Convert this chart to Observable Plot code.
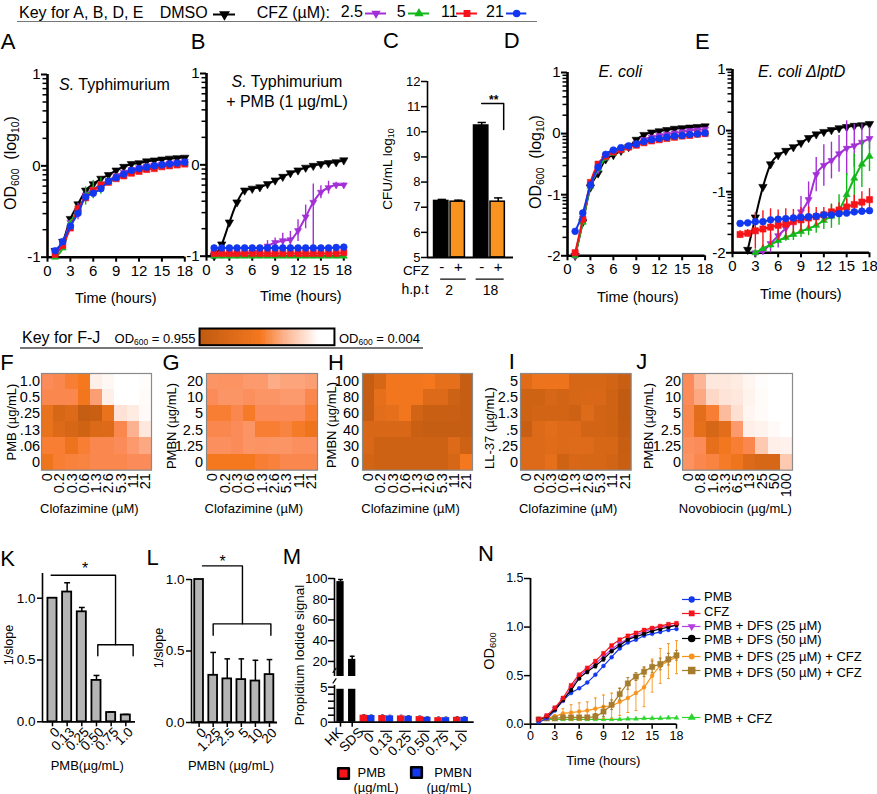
<!DOCTYPE html>
<html><head><meta charset="utf-8">
<script src="https://cdn.jsdelivr.net/npm/d3@7"></script>
<script src="https://cdn.jsdelivr.net/npm/@observablehq/plot@0.6"></script>
<style>
html,body{margin:0;padding:0;background:#fff}
#page{position:relative;width:877px;height:794px;overflow:hidden;font-family:"Liberation Sans",Arial,sans-serif;color:#000}
.t{position:absolute;white-space:nowrap;line-height:1}
.t sub{font-size:.65em;line-height:0;vertical-align:-.25em}
.u{position:absolute;height:1.5px;background:#777}
</style></head><body><div id="page"></div>
<script>
// ---------- data ----------
const hours=[1,2,3,4,5,6,7,8,9,10,11,12,13,14,15,16,17,18];
const C_BLACK="#000",C_PURPLE="#a32fd6",C_GREEN="#12b81a",C_RED="#f5141a",C_BLUE="#1237f0";

const A_dmso=[-.93,-.83,-.58,-.42,-.27,-.2,-.14,-.1,-.05,-.01,.02,.03,.05,.06,.07,.08,.085,.09];
const A_25=[-.94,-.84,-.62,-.5,-.32,-.26,-.2,-.16,-.11,-.07,-.04,-.02,0,.01,.02,.03,.04,.05];
const A_5=[-1,-.9,-.63,-.48,-.33,-.26,-.22,-.17,-.13,-.1,-.07,-.04,-.02,-.01,0,.01,.02,.03];
const A_11=[-.97,-.87,-.68,-.47,-.35,-.27,-.21,-.18,-.14,-.11,-.08,-.06,-.04,-.03,-.01,0,.01,.02];
const A_21=[-.93,-.83,-.66,-.52,-.34,-.3,-.25,-.17,-.13,-.09,-.05,-.03,-.015,0,.01,.02,.03,.04];
const A_err5=[0,0,0,0,.1,.1,.09,0,0,0,0,0,0,0,0,0,0,0];
const A_err25=[0,0,0,.09,.04,0,0,0,0,0,0,0,0,0,0,0,0,0];

const B_dmso=[-1,-.87,-.63,-.41,-.28,-.26,-.245,-.21,-.17,-.13,-.09,-.06,-.03,-.01,.01,.02,.03,.05];
const B_25=[-.98,-.98,-.98,-.98,-.97,-.96,-.93,-.89,-.85,-.83,-.82,-.72,-.57,-.41,-.3,-.25,-.22,-.22];
const B_5=[-1,-1,-1,-1,-1,-1,-1,-1,-1,-1,-1,-1,-1,-1,-1,-1,-1,-1];
const B_11=[-.97,-.97,-.97,-.97,-.97,-.97,-.97,-.97,-.97,-.97,-.97,-.97,-.97,-.97,-.97,-.97,-.97,-.96];
const B_21=[-.91,-.91,-.91,-.91,-.91,-.91,-.91,-.91,-.91,-.91,-.91,-.91,-.91,-.91,-.91,-.91,-.905,-.9];
const B_up25=[0,0,0,0,0,0,0,.06,.05,.08,.09,.12,.13,.2,.07,.07,.03,.02];
const B_dn25=[0,0,0,0,0,0,0,.06,.05,.08,.09,.12,.13,.59,.07,.07,.03,.02];

const D_dmso=[-2,-1.45,-.88,-.65,-.42,-.35,-.28,-.22,-.1,-.02,.02,.04,.06,.08,.09,.1,.11,.12];
const D_25=[-2,-1.42,-.86,-.6,-.38,-.3,-.26,-.21,-.16,-.1,-.06,-.03,-.01,.01,.03,.05,.06,.07];
const D_5=[-2,-1.45,-.86,-.58,-.4,-.32,-.27,-.22,-.18,-.14,-.11,-.09,-.07,-.05,-.03,-.02,0,.01];
const D_11=[-1.95,-1.4,-.8,-.5,-.37,-.3,-.26,-.22,-.19,-.15,-.12,-.1,-.08,-.06,-.04,-.03,-.01,0];
const D_21=[-1.6,-1.3,-.84,-.55,-.34,-.27,-.23,-.2,-.17,-.13,-.1,-.08,-.06,-.04,-.03,-.015,-.005,.01];

const E_dmso=[null,-1.95,-1.42,-.92,-.55,-.4,-.33,-.27,-.2,-.12,-.06,-.02,.01,.04,.06,.08,.09,.11];
const E_25=[null,null,-2,-1.97,-1.85,-1.72,-1.6,-1.48,-1.33,-1.13,-.72,-.57,-.49,-.38,-.29,-.25,-.19,-.13];
const E_5=[null,null,-2,-1.93,-1.87,-1.8,-1.75,-1.7,-1.65,-1.6,-1.55,-1.47,-1.4,-1.3,-1.05,-.78,-.55,-.42];
const E_11=[-1.7,-1.68,-1.64,-1.61,-1.58,-1.55,-1.53,-1.49,-1.46,-1.43,-1.41,-1.38,-1.33,-1.3,-1.25,-1.21,-1.17,-1.13];
const E_21=[-1.52,-1.51,-1.49,-1.49,-1.46,-1.45,-1.44,-1.43,-1.42,-1.41,-1.4,-1.38,-1.38,-1.36,-1.35,-1.33,-1.32,-1.31];
const E_err25=[0,0,0,.02,.15,.2,.15,.12,.25,.29,.28,.34,.3,.3,.45,.35,.3,.18];
const E_err5=[0,0,0,.05,.06,.05,.06,.1,.1,.12,.13,.15,.2,.25,.35,.4,.38,.25];
const E_err11=[.06,.06,.3,.3,.3,.25,.25,.2,.2,.18,.15,.12,.12,.12,.13,.15,.17,.18];

const C_pos=[1,2,3.42,4.42];
const C_sign=["-","+","-","+"];
const C_vals=[7.25,7.22,10.25,7.22];
const C_errs=[.06,.06,.12,.15];
const C_colors=["#000","#f7931e","#000","#f7931e"];

const heatCFZ=["0","0.2","0.3","0.6","1.3","2.6","5.3","11","21"];
const heatNov=["0","0.8","1.6","3.3","6.5","13","25","50","100"];
const F_rows=["1.0","0.5",".25",".13",".06","0"];
const F_vals=[[.6,.62,.68,.72,.08,.04,0,0,.01],[.62,.62,.62,.74,.5,.08,0,0,.02],[.78,.88,.85,.97,.95,.78,.15,.1,.03],[.78,.85,.88,.92,.86,.85,.62,.4,.12],[.68,.68,.76,.68,.62,.62,.6,.52,.45],[.75,.68,.66,.65,.62,.62,.62,.6,.6]];
const G_rows=["20","10","5","2.5","1.25","0"];
const G_vals=[[.55,.56,.56,.52,.52,.43,.47,.47,.5],[.6,.55,.55,.58,.55,.55,.52,.52,.62],[.68,.68,.62,.7,.6,.6,.6,.6,.68],[.62,.62,.6,.55,.68,.68,.65,.7,.75],[.58,.58,.6,.55,.56,.55,.55,.58,.58],[.72,.72,.72,.72,.68,.66,.62,.62,.62]];
const H_rows=["100","80","60","40","30","0"];
const H_vals=[[.97,.88,.74,.74,.74,.72,.8,.8,.97],[.97,.8,.74,.74,.74,.85,.85,.93,.97],[.97,.82,.8,.74,.9,.95,.95,.95,.97],[.87,.87,.87,.87,.95,.97,.97,.97,.97],[.87,.93,.93,.93,.93,.93,.93,.85,.93],[.9,.93,.93,.93,.93,.93,.93,.88,.72]];
const I_rows=["5","2.5","1.3",".5",".25","0"];
const I_vals=[[.83,.76,.76,.76,.88,.88,.88,.9,.95],[.92,.92,.88,.9,.88,.87,.87,.92,.99],[.92,.9,.9,.9,.93,.84,.9,.92,.99],[.95,.85,.82,.85,.85,.9,.9,.92,.98],[.85,.85,.83,.85,.84,.84,.88,.88,.96],[.85,.85,.8,.92,.87,.88,.88,.9,.95]];
const J_rows=["20","10","5","2.5","1.25","0"];
const J_vals=[[.6,.38,.12,.12,.1,.05,.01,0,0],[.6,.45,.2,.14,.12,.06,.02,0,0],[.62,.82,.68,.35,.16,.05,.02,0,0],[.62,.8,.88,.82,.52,.08,.06,.03,0],[.58,.6,.8,.73,.68,.62,.28,.08,.07],[.56,.62,.65,.7,.75,.85,.88,.88,.28]];
const heatDomain=[0,.6,.72,1];
const heatRange=["#ffffff","#fb8b58","#f5781f","#bf5a10"];

const K_labels=["0","0.13","0.25","0.50","0.75","1.0"];
const K_vals=[1,1.05,.89,.335,.075,.055];
const K_errs=[0,.075,.035,.04,.005,.005];
const L_labels=["0","1.25","2.5","5","10","20"];
const L_vals=[1,.33,.305,.3,.29,.335];
const L_errs=[0,.16,.14,.145,.145,.105];

const M_ctrlPos=[-1.446,-.82];
const M_ctrlLabels=["HK","SDS"];
const M_ctrlVals=[97,22];
const M_ctrlErrs=[2,3];
const M_groups=[0,1,2,3,4,5];
const M_groupLabels=["0","0.13","0.25","0.50","0.75","1.0"];
const M_pmb=[1,.95,.9,.8,.65,.7];
const M_pmbn=[.95,.9,.85,.7,.65,.7];

const N_pmb=[.02,.06,.14,.24,.32,.37,.43,.51,.6,.69,.78,.84,.87,.91,.93,.95,.97,.98];
const N_cfz=[.05,.09,.17,.27,.4,.51,.58,.65,.73,.81,.87,.91,.94,.97,.99,1.01,1.03,1.04];
const N_d25=[.05,.08,.16,.25,.37,.49,.56,.62,.7,.77,.83,.88,.92,.95,.98,1,1.01,1.02];
const N_d50=[.05,.08,.15,.25,.35,.47,.54,.6,.67,.75,.81,.87,.9,.93,.96,.98,1,1.02];
const N_d25c=[.05,.06,.08,.11,.12,.13,.14,.16,.18,.19,.23,.27,.32,.38,.5,.6,.65,.69];
const N_d50c=[.05,.06,.06,.07,.07,.07,.07,.08,.13,.2,.31,.42,.49,.54,.59,.62,.67,.71];
const N_pc=[.04,.05,.05,.05,.05,.05,.05,.05,.05,.05,.05,.055,.055,.06,.06,.06,.065,.065];
const N_err25c=[0,0,.02,.05,.08,.09,.09,.11,.12,.13,.14,.15,.18,.2,.17,.18,.18,.17];
const N_err50c=[0,.01,.01,.02,.02,.02,.02,.03,.05,.05,.06,.06,.04,.05,.06,.06,.06,.05];
const N_errD=[0,0,.01,.01,.01,.01,.02,.02,.02,.01,.01,.01,.01,.01,.01,.01,.01,.01];

const logMinorOffsets=[.301,.477,.602,.699,.778,.845,.903,.954];

// ---------- helpers ----------
const page=document.getElementById("page");
const triDown={draw(c,s){const y=Math.sqrt(s/(3*Math.sqrt(3)));c.moveTo(0,2*y);c.lineTo(-Math.sqrt(3)*y,-y);c.lineTo(Math.sqrt(3)*y,-y);c.closePath();}};
const FONT='"Liberation Sans",Arial,sans-serif';

function lab(html,x,y,o={}){
  const d=document.createElement("div");d.className="t";d.innerHTML=html;
  const rot=o.rot?` rotate(${o.rot}deg)`:"";
  const ax=o.start?"0":"-50%";
  d.style.cssText=`left:${x}px;top:${y}px;font-size:${o.size||13}px;transform:translate(${ax},-50%)${rot};`+(o.italic?"font-style:italic;":"");
  page.appendChild(d);
}
function under(x0,x1,y){const d=document.createElement("div");d.className="u";d.style.cssText=`left:${x0}px;top:${y}px;width:${x1-x0}px`;page.appendChild(d);}

function place(box,m,opts){
  const [x0,y0,x1,y1]=box,[t,r,b,l]=m;
  const plot=Plot.plot({width:x1-x0+l+r,height:y1-y0+t+b,marginTop:t,marginRight:r,marginBottom:b,marginLeft:l,
    style:{position:"absolute",left:(x0-l)+"px",top:(y0-t)+"px",background:"transparent",overflow:"visible",maxWidth:"none",fontFamily:FONT,fontSize:(opts.fs||14)+"px",color:"#000"},
    ...opts});
  page.appendChild(plot);return plot;
}
function swatch(x0,x1,y,color,symbol,r,sw=2){
  place([x0,y-8,x1,y+8],[0,0,0,0],{x:{axis:null,domain:[0,1]},y:{axis:null,domain:[0,1]},marks:[
    Plot.ruleY([.5],{stroke:color,strokeWidth:sw}),
    Plot.dot([.5],{x:d=>d,y:()=>.5,r,symbol,fill:color,stroke:color})
  ]});
}
function boxSwatch(cx,cy,color){
  place([cx-9,cy-9,cx+9,cy+9],[0,0,0,0],{x:{axis:null,domain:[0,1]},y:{axis:null,domain:[0,1]},marks:[
    Plot.dot([.5],{x:d=>d,y:()=>.5,r:6,symbol:"square",fill:color,stroke:"#000",strokeWidth:2.6,strokeLinejoin:"round"})
  ]});
}
function tab(values,up,dn){return hours.map((h,i)=>({h,v:values[i],up:up?up[i]:0,dn:dn?dn[i]:(up?up[i]:0)}));}
function seriesMarks(s,sw){
  const d=tab(s.v,s.up,s.dn);
  return [
    Plot.ruleX(d.filter(e=>e.v!=null&&(e.up||e.dn)),{x:"h",y1:e=>e.v-e.dn,y2:e=>e.v+e.up,stroke:s.c,strokeWidth:1.4}),
    Plot.line(d,{x:"h",y:"v",stroke:s.c,strokeWidth:sw,curve:"monotone-x"}),
    Plot.dot(d,{x:"h",y:"v",r:s.r,symbol:s.s,fill:s.c,stroke:s.c,strokeWidth:.6})
  ];
}
function growth(box,yDomain,majors,series){
  const minor=majors.flatMap(M=>logMinorOffsets.map(o=>M+o)).filter(v=>v<yDomain[1]);
  place(box,[8,14,32,32],{fs:15,x:{domain:[0,18]},y:{domain:yDomain},marks:[
    Plot.axisY({ticks:minor,tickSize:4.5,tickFormat:()=>"",strokeWidth:1.5,label:null}),
    Plot.axisY({ticks:[...majors,yDomain[1]],tickSize:6,tickFormat:String,strokeWidth:2,tickPadding:1,label:null}),
    Plot.axisX({ticks:[0,3,6,9,12,15,18],tickSize:5,tickPadding:3,strokeWidth:2,label:null}),
    Plot.ruleX([0],{strokeWidth:2.6}),
    Plot.ruleY([yDomain[0]],{strokeWidth:2.6}),
    ...series.flatMap(s=>seriesMarks(s,2))
  ]});
}
function heat(box,xs,rows,vals,pad){
  const data=vals.flatMap((row,j)=>row.map((v,i)=>({x:xs[i],y:rows[j],v})));
  place(box,[2,4,34,32],{fs:14.5,
    x:{type:"band",domain:xs,padding:0,round:false},y:{type:"band",domain:rows,padding:0,round:false},
    color:{type:"linear",domain:heatDomain,range:heatRange},
    marks:[
      Plot.cell(data,{x:"x",y:"y",fill:"v",inset:0,shapeRendering:"crispEdges"}),
      Plot.frame({stroke:"#8a8a8a",strokeWidth:1.2}),
      Plot.axisY({tickSize:0,tickPadding:pad,label:null}),
      Plot.axisX({tickSize:0,tickPadding:3,tickRotate:-90,label:null})
    ]});
}
function cap(data,half,stroke="#000",sw=1.5){
  return [Plot.ruleX(data,{x:"x",y1:"v",y2:"hi",stroke,strokeWidth:sw}),
          Plot.link(data,{x1:d=>d.x-half,x2:d=>d.x+half,y1:"hi",y2:"hi",stroke,strokeWidth:sw})];
}
function slopeBars(box,xDom,yDom,labels,vals,errs,yTicks,brackets,m){
  const d=vals.map((v,i)=>({x:i,v,hi:v+errs[i]}));
  const idx=d3.range(labels.length);
  place(box,m,{fs:13.5,x:{domain:xDom},y:{domain:yDom},marks:[
    ...cap(d.filter(e=>e.hi>e.v),.2),
    Plot.rectY(d,{x1:e=>e.x-.31,x2:e=>e.x+.31,y1:0,y2:"v",fill:"#b5b5b5",stroke:"#000",strokeWidth:1.8}),
    Plot.axisY({ticks:yTicks,tickFormat:v=>v.toFixed(1),tickSize:5,tickPadding:2,strokeWidth:1.5,label:null}),
    Plot.axisX({ticks:idx,tickFormat:()=>"",tickSize:5,strokeWidth:1.5,label:null}),
    Plot.axisX({ticks:idx,tickFormat:i=>labels[i],tickSize:0,tickPadding:8,dx:5,tickRotate:-45,label:null}),
    Plot.ruleX([xDom[0]],{y1:0,y2:yDom[1],strokeWidth:1.6}),
    Plot.ruleY([0],{strokeWidth:1.8}),
    ...brackets.map(b=>Plot.line(b,{x:"x",y:"y",stroke:"#000",strokeWidth:1.4}))
  ]});
}

// ---------- key A,B,D,E ----------
lab("Key for A, B, D, E",19,13,{size:16,start:1});
lab("DMSO",159.7,13,{size:16,start:1});
swatch(213,235,14,C_BLACK,triDown,3.1);
lab("CFZ (µM):",256.7,13,{size:16,start:1});
lab("2.5",340.7,12,{size:16,start:1});
swatch(365,386,13,C_PURPLE,triDown,2.5);
lab("5",396.7,12,{size:16,start:1});
swatch(408,429,13,C_GREEN,"triangle",2.5);
lab("11",441,12,{size:16,start:1});
swatch(456,477,12.5,C_RED,"square",3);
lab("21",486,12,{size:16,start:1});
swatch(505.7,526,13,C_BLUE,"circle",3);
under(17,537,20.5);

// ---------- growth ----------
const sers=(d,p,g,r,b,x={})=>[
  {v:d,c:C_BLACK,s:triDown,r:3.1},
  {v:p,c:C_PURPLE,s:triDown,r:2.6,up:x.pu,dn:x.pd},
  {v:g,c:C_GREEN,s:"triangle",r:2.6,up:x.gu},
  {v:r,c:C_RED,s:"square",r:3.5,up:x.ru},
  {v:b,c:C_BLUE,s:"circle",r:3.4}];
growth([46.7,74,184,256.7],[-1,1],[-1,0],sers(A_dmso,A_25,A_5,A_11,A_21,{gu:A_err5,pu:A_err25}));
growth([205.7,73,343,255.7],[-1,1],[-1,0],sers(B_dmso,B_25,B_5,B_11,B_21,{pu:B_up25,pd:B_dn25}));
growth([566.7,71.7,704.3,255],[-2,1],[-2,-1,0],sers(D_dmso,D_25,D_5,D_11,D_21));
growth([732.3,69,869.3,252.3],[-2,1],[-2,-1,0],sers(E_dmso,E_25,E_5,E_11,E_21,{pu:E_err25,gu:E_err5,ru:E_err11}));

lab("OD<sub>600</sub>&nbsp;&nbsp;(log<sub>10</sub>)",11,163,{size:16,rot:-90});
lab("OD<sub>600</sub>&nbsp;&nbsp;(log<sub>10</sub>)",535.7,162,{size:16,rot:-90});
lab("<i>S.</i> Typhimurium",114.5,85,{size:16});
lab("<i>S.</i> Typhimurium",287,82.3,{size:16});
lab("+ PMB (1 µg/mL)",287,101.7,{size:16});
lab("<i>E. coli</i>",620.3,72.3,{size:16});
lab("<i>E. coli ΔlptD</i>",801.7,72.3,{size:16});
lab("Time (hours)",115.8,298.3,{size:14.5});
lab("Time (hours)",300.8,296,{size:14.5});
lab("Time (hours)",637.8,296.7,{size:14.5});
lab("Time (hours)",800.8,293.7,{size:14.5});

// ---------- C ----------
const C_data=C_pos.map((x,i)=>({x,v:C_vals[i],hi:C_vals[i]+C_errs[i],c:C_colors[i]}));
place([426.7,81,512.7,257],[6,4,42,26],{fs:13,x:{domain:[.133,5.345]},y:{domain:[5,12]},marks:[
  ...cap(C_data,.25),
  Plot.rectY(C_data,{x1:d=>d.x-.47,x2:d=>d.x+.4,y1:5,y2:"v",fill:"c",stroke:"#000",strokeWidth:1.5}),
  Plot.axisY({ticks:[5,6,7,8,9,10,11,12],tickSize:6,tickPadding:1,strokeWidth:1.5,tickFormat:String,label:null}),
  Plot.axisX({ticks:C_pos,tickFormat:(v,i)=>C_sign[i],tickSize:0,tickPadding:4,fontSize:15,label:null}),
  Plot.ruleX([.133],{strokeWidth:1.6}),
  Plot.ruleY([5],{strokeWidth:1.8}),
  Plot.line([{x:3.42,y:11.125},{x:4.75,y:11.125},{x:4.75,y:10.09}],{x:"x",y:"y",stroke:"#000",strokeWidth:1.5}),
  Plot.text(["**"],{x:()=>4.15,y:()=>11.2,fontSize:12,dy:-1,fontWeight:"bold"}),
  Plot.link([{a:.9,b:2.45},{a:3.05,b:4.75}],{x1:"a",x2:"b",y1:()=>4.14,y2:()=>4.14,stroke:"#000",strokeWidth:1.2}),
  Plot.text([{x:1.45,l:"2"},{x:3.95,l:"18"}],{x:"x",y:()=>3.68,text:"l",fontSize:14})
]});
lab("CFU/mL log<sub>10</sub>",388,169,{size:13.5,rot:-90});
lab("CFZ",416,271,{size:13.5});
lab("h.p.t",415,289.3,{size:14});
lab("C",391,41,{size:22});

// ---------- key F-J ----------
lab("Key for F-J",22,338,{size:16,start:1});
lab("OD<sub>600</sub> = 0.955",155,337.5,{size:13});
const keySteps=d3.range(0,1.0001,.0125);
place([199,328,334,344.7],[0,0,0,0],{x:{axis:null,domain:[0,1]},y:{axis:null,domain:[0,1]},color:{type:"linear",domain:[0,.45,.62,.88,1],range:["#bf5a10","#f5781f","#fcb08a","#ffffff","#ffffff"]},marks:[
  Plot.rect(keySteps,{x1:d=>d,x2:d=>d+.0135,y1:0,y2:1,fill:d=>d,shapeRendering:"crispEdges"}),
  Plot.frame({stroke:"#000",strokeWidth:2})
]});
lab("OD<sub>600</sub> = 0.004",339,337.5,{size:13,start:1});
under(20,422.7,347);

// ---------- heatmaps ----------
heat([41,373.3,151,470],heatCFZ,F_rows,F_vals,1.5);
heat([205.7,373.3,316.7,470],heatCFZ,G_rows,G_vals,3.5);
heat([362.3,373.3,472.3,470],heatCFZ,H_rows,H_vals,3.5);
heat([520,373.3,630.7,470],heatCFZ,I_rows,I_vals,2.5);
heat([681.7,373.3,791.7,470],heatNov,J_rows,J_vals,1.5);
lab("PMB (µg/mL)",11,421.7,{size:13,rot:-90});
lab("PMBN (µg/mL)",170.7,426,{size:13,rot:-90});
lab("PMBN (µg/mL)",330.7,425,{size:13,rot:-90});
lab("LL-37 (µg/mL)",489,428,{size:13,rot:-90});
lab("PMBN (µg/mL)",648,426,{size:13,rot:-90});
lab("Clofazimine (µM)",89.3,507.7,{size:13});
lab("Clofazimine (µM)",253.8,507.7,{size:13});
lab("Clofazimine (µM)",410.5,507.7,{size:13});
lab("Clofazimine (µM)",568.2,507.7,{size:13});
lab("Novobiocin (µg/mL)",735.3,507.7,{size:13});

// ---------- K, L ----------
const K_bracketTop=[{x:-.09,y:1.186},{x:4.3,y:1.186},{x:4.3,y:.623}];
const K_bracketLow=[{x:3.09,y:.534},{x:3.09,y:.623},{x:5.5,y:.623},{x:5.5,y:.534}];
slopeBars([42,573,135,721.3],[-.68,5.66],[0,1.2],K_labels,K_vals,K_errs,[0,.5,1],[K_bracketTop,K_bracketLow],[14,8,46,32]);
lab("*",85,569,{size:16});
lab("1/slope",9,645,{size:12.5,rot:-90});
lab("PMB(µg/mL)",87.3,764.7,{size:13});

const L_bracketTop=[{x:.24,y:1.095},{x:3.08,y:1.095},{x:3.08,y:.69}];
const L_bracketLow=[{x:1,y:.61},{x:1,y:.69},{x:5.1,y:.69},{x:5.1,y:.61}];
slopeBars([190.7,578.7,276.7,721.7],[-.54,5.57],[0,1],L_labels,L_vals,L_errs,[0,.5,1],[L_bracketTop,L_bracketLow],[20,8,46,32]);
lab("*",222.7,562,{size:16});
lab("1/slope",159,648,{size:12.5,rot:-90});
lab("PMBN (µg/mL)",231,765,{size:13});

// ---------- M (broken axis) ----------
const M_ctrl=M_ctrlPos.map((x,i)=>({x,v:M_ctrlVals[i],hi:M_ctrlVals[i]+M_ctrlErrs[i]}));
const M_xDom=[-1.767,5.71];
place([334.3,577.7,474,675.7],[4,4,0,28],{fs:13.5,x:{domain:M_xDom,axis:null},y:{domain:[5.5,100]},marks:[
  ...cap(M_ctrl,.13),
  Plot.rectY(M_ctrl,{x1:d=>d.x-.195,x2:d=>d.x+.195,y1:0,y2:"v",fill:"#000",clip:true}),
  Plot.axisY({ticks:[20,40,60,80,100],tickSize:6,tickPadding:1,strokeWidth:1.5,tickFormat:String,label:null}),
  Plot.ruleX([M_xDom[0]],{strokeWidth:1.6})
]});
const M_red=M_groups.map((g,i)=>({g,v:M_pmb[i]}));
const M_blue=M_groups.map((g,i)=>({g,v:M_pmbn[i]}));
const M_errs=M_groups.flatMap((g,i)=>[{x:g-.2,v:M_pmb[i],hi:M_pmb[i]+.1},{x:g+.2,v:M_pmbn[i],hi:M_pmbn[i]+.1}]);
place([334.3,685,474,721.7],[5,4,48,28],{fs:13.5,x:{domain:M_xDom},y:{domain:[0,5.24]},marks:[
  ...cap(M_errs,.08,"#555",1),
  Plot.rectY(M_ctrl,{x1:d=>d.x-.195,x2:d=>d.x+.195,y1:0,y2:d=>Math.min(d.v,4.7),fill:"#000"}),
  Plot.rectY(M_red,{x1:d=>d.g-.4,x2:d=>d.g,y1:0,y2:"v",fill:"#f5141a"}),
  Plot.rectY(M_blue,{x1:d=>d.g,x2:d=>d.g+.4,y1:0,y2:"v",fill:"#1237f0"}),
  Plot.axisY({ticks:[1,2,3,4],tickSize:6,tickFormat:()=>"",strokeWidth:1.5,label:null}),
  Plot.axisY({ticks:[0,5],tickSize:6,tickPadding:1,strokeWidth:1.5,tickFormat:String,label:null}),
  Plot.axisX({ticks:M_ctrlPos,tickFormat:()=>"",tickSize:5,strokeWidth:1.5,label:null}),
  Plot.axisX({ticks:[M_ctrlPos[0]],tickFormat:()=>M_ctrlLabels[0],tickSize:0,tickPadding:8,dx:0,tickRotate:-45,label:null}),
  Plot.axisX({ticks:[M_ctrlPos[1]],tickFormat:()=>M_ctrlLabels[1],tickSize:0,tickPadding:8,dx:9,tickRotate:-45,label:null}),
  Plot.axisX({ticks:M_groups,tickFormat:(v,i)=>M_groupLabels[i],tickSize:0,tickPadding:13,dx:4,tickRotate:-45,label:null}),
  Plot.ruleX([M_xDom[0]],{strokeWidth:1.6}),
  Plot.ruleY([0],{strokeWidth:1.8}),
  Plot.link(M_groups,{x1:d=>d-.32,x2:d=>d+.32,y1:()=>-1.3,y2:()=>-1.3,stroke:"#000",strokeWidth:1.2}),
  Plot.link([5.9,7.4],{x1:()=>-1.86,x2:()=>-1.67,y1:d=>d-.35,y2:d=>d+.35,stroke:"#000",strokeWidth:1.2})
]});
lab("Propidium Iodide signal",300,655,{size:13.5,rot:-90});
boxSwatch(343.3,773,"#f5141a");
boxSwatch(415.7,772,"#1237f0");
lab("PMB",371.7,772,{size:13});
lab("(µg/mL)",376,787,{size:13});
lab("PMBN",453,772,{size:13});
lab("(µg/mL)",449,787,{size:13});

// ---------- N ----------
const N_series=[
  {v:N_pc,c:"#2bd52b",s:"triangle",r:1.8},
  {v:N_d25c,c:"#f7941d",s:"circle",r:2,up:N_err25c},
  {v:N_d50c,c:"#a67c2d",s:"square",r:3,up:N_err50c},
  {v:N_pmb,c:"#1237f0",s:"circle",r:2},
  {v:N_d25,c:"#b43fe0",s:triDown,r:2},
  {v:N_d50,c:"#000",s:"circle",r:2,up:N_errD},
  {v:N_cfz,c:"#f5141a",s:"square",r:2.2}
];
place([530,578,676,723.7],[6,6,30,34],{fs:12.5,x:{domain:[0,18]},y:{domain:[0,1.5]},marks:[
  Plot.axisY({ticks:[0,.5,1,1.5],tickFormat:v=>v.toFixed(1),tickSize:6,tickPadding:1,strokeWidth:1.5,label:null}),
  Plot.axisX({ticks:[0,3,6,9,12,15,18],tickSize:5,tickPadding:2,strokeWidth:1.5,label:null}),
  Plot.ruleX([0],{strokeWidth:1.8}),
  Plot.ruleY([0],{strokeWidth:1.8}),
  ...N_series.flatMap(s=>{
    const d=tab(s.v,s.up);
    return [
      Plot.ruleX(d.filter(e=>e.up),{x:"h",y1:e=>e.v-e.up,y2:e=>e.v+e.up,stroke:s.c,strokeWidth:1,strokeOpacity:.9}),
      Plot.link(d.filter(e=>e.up),{x1:e=>e.h-.18,x2:e=>e.h+.18,y1:e=>e.v+e.up,y2:e=>e.v+e.up,stroke:s.c,strokeWidth:1}),
      Plot.link(d.filter(e=>e.up),{x1:e=>e.h-.18,x2:e=>e.h+.18,y1:e=>e.v-e.up,y2:e=>e.v-e.up,stroke:s.c,strokeWidth:1}),
      Plot.line(d,{x:"h",y:"v",stroke:s.c,strokeWidth:1.2,curve:"monotone-x"}),
      Plot.dot(d,{x:"h",y:"v",r:s.r,symbol:s.s,fill:s.c,stroke:s.c,strokeWidth:.4})
    ];
  })
]});
lab("OD<sub>600</sub>",489.3,650.7,{size:14.5,rot:-90});
lab("Time (hours)",603.3,761,{size:13.2});
const N_legend=[
  ["PMB",595.7,599.3,"#1237f0","circle",2.4],
  ["CFZ",610.7,612.7,"#f5141a","square",2.4],
  ["PMB + DFS (25 µM)",625,626,"#b43fe0",triDown,2],
  ["PMB + DFS (50 µM)",639,637.7,"#000","circle",3],
  ["PMB + DFS (25 µM) + CFZ",655.7,655.7,"#f7941d","circle",2.2],
  ["PMB + DFS (50 µM) + CFZ",672.3,670,"#a67c2d","square",3.4],
  ["PMB + CFZ",718,716.7,"#2bd52b","triangle",2]];
N_legend.forEach(([t,ty,ly,c,s,r])=>{swatch(682.3,700.7,ly,c,s,r,1.2);lab(t,704,ty,{size:13,start:1});});

// ---------- panel letters ----------
const letters=[["A",8,41.7],["B",198,41.7],["D",511.7,41],["E",702.3,42],["F",7,363.3],["G",171,363.3],["H",336,363.3],["I",511.7,361.7],["J",641.7,361.7],["K",7.7,559.3],["L",152.7,558.3],["M",292,556.7],["N",486,554]];
letters.forEach(([l,x,y])=>lab(l,x,y,{size:22}));
</script></body></html>
